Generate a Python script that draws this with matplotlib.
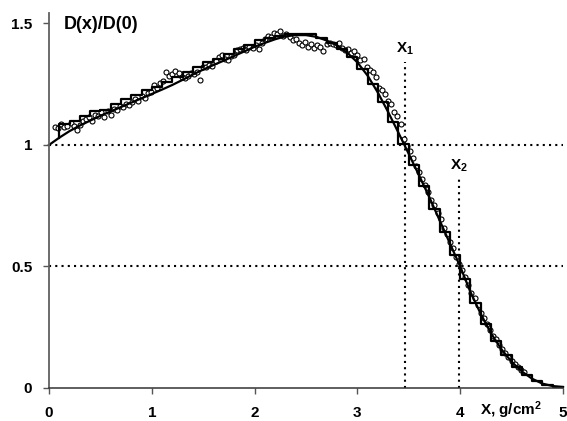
import matplotlib.pyplot as plt

plt.rcParams['font.family'] = ['Liberation Sans', 'DejaVu Sans']
plt.rcParams['font.weight'] = 'bold'
plt.rcParams['mathtext.fontset'] = 'custom'
plt.rcParams['mathtext.rm'] = 'Liberation Sans:bold'
plt.rcParams['mathtext.it'] = 'Liberation Sans:bold'
plt.rcParams['mathtext.bf'] = 'Liberation Sans:bold'

# smooth dose curve D(x)/D(0)
curve_x = [0.0, 0.1, 0.2, 0.3, 0.4, 0.5, 0.6, 0.7, 0.8, 0.9, 1.0,
           1.1, 1.2, 1.3, 1.4, 1.5, 1.6, 1.7, 1.8, 1.9, 2.0,
           2.1, 2.2, 2.3, 2.4, 2.5, 2.6, 2.7, 2.8, 2.9, 3.0,
           3.1, 3.2, 3.3, 3.4, 3.5, 3.6, 3.7, 3.8, 3.9, 4.0,
           4.1, 4.2, 4.3, 4.4, 4.5, 4.6, 4.7, 4.8, 4.9, 5.0]
curve_y = [1.0, 1.03, 1.057, 1.08, 1.1, 1.12, 1.138, 1.156, 1.174, 1.192, 1.21,
           1.228, 1.247, 1.268, 1.29, 1.31, 1.329, 1.347, 1.366, 1.385, 1.404,
           1.42, 1.435, 1.447, 1.452, 1.452, 1.445, 1.43, 1.41, 1.38, 1.34,
           1.285, 1.215, 1.135, 1.05, 0.963, 0.875, 0.785, 0.69, 0.595, 0.5,
           0.395, 0.305, 0.225, 0.16, 0.108, 0.068, 0.038, 0.018, 0.008, 0.004]

# layer-averaged staircase (value on each 0.1 bin, bin right edge given)
step_x = [0.1, 0.2, 0.3, 0.4, 0.5, 0.6, 0.7, 0.8, 0.9, 1.0,
          1.1, 1.2, 1.3, 1.4, 1.5, 1.6, 1.7, 1.8, 1.9, 2.0,
          2.1, 2.2, 2.3, 2.4, 2.5, 2.6, 2.7, 2.8, 2.9, 3.0,
          3.1, 3.2, 3.3, 3.4, 3.5, 3.6, 3.7, 3.8, 3.9, 4.0,
          4.1, 4.2, 4.3, 4.4, 4.5, 4.6, 4.7, 4.8, 4.9, 5.0]
step_y = [1.03, 1.085, 1.10, 1.12, 1.14, 1.145, 1.17, 1.19, 1.205, 1.225,
          1.24, 1.26, 1.28, 1.30, 1.32, 1.34, 1.355, 1.375, 1.395, 1.41,
          1.43, 1.44, 1.45, 1.455, 1.455, 1.455, 1.44, 1.42, 1.395, 1.36,
          1.313, 1.25, 1.175, 1.093, 1.006, 0.919, 0.83, 0.738, 0.643, 0.548,
          0.448, 0.35, 0.265, 0.193, 0.134, 0.088, 0.053, 0.028, 0.013, 0.006]

# measured points
meas_x = [0.06, 0.09, 0.12, 0.15, 0.18, 0.21, 0.24, 0.27, 0.30, 0.33,
          0.36, 0.39, 0.42, 0.45, 0.48, 0.51, 0.54, 0.57, 0.60, 0.63,
          0.66, 0.69, 0.72, 0.75, 0.78, 0.81, 0.84, 0.87, 0.90, 0.93,
          0.96, 0.99, 1.02, 1.05, 1.08, 1.11, 1.14, 1.17, 1.20, 1.23,
          1.26, 1.29, 1.32, 1.35, 1.38, 1.41, 1.44, 1.47, 1.50, 1.53,
          1.56, 1.59, 1.62, 1.65, 1.68, 1.71, 1.74, 1.77, 1.80, 1.83,
          1.86, 1.89, 1.92, 1.95, 1.98, 2.01, 2.04, 2.07, 2.10, 2.13,
          2.16, 2.19, 2.22, 2.25, 2.28, 2.31, 2.34, 2.37, 2.40, 2.43,
          2.46, 2.49, 2.52, 2.55, 2.58, 2.61, 2.64, 2.67, 2.70, 2.73,
          2.76, 2.79, 2.82, 2.85, 2.88, 2.91, 2.94, 2.97, 3.00, 3.03,
          3.06, 3.09, 3.12, 3.15, 3.18, 3.21, 3.24, 3.27, 3.30, 3.33,
          3.36, 3.39, 3.42, 3.45, 3.48, 3.51, 3.54, 3.57, 3.60, 3.63,
          3.66, 3.69, 3.72, 3.75, 3.78, 3.81, 3.84, 3.87, 3.90, 3.93,
          3.96, 3.99, 4.02, 4.05, 4.08, 4.11, 4.14, 4.17, 4.20, 4.23,
          4.26, 4.29, 4.32, 4.35, 4.38, 4.41, 4.44, 4.47, 4.50, 4.53,
          4.56, 4.59, 4.62]
meas_y = [1.075, 1.068, 1.085, 1.072, 1.08, 1.09, 1.077, 1.06, 1.083, 1.10,
          1.105, 1.115, 1.10, 1.125, 1.12, 1.135, 1.115, 1.14, 1.125, 1.15,
          1.145, 1.16, 1.155, 1.17, 1.165, 1.175, 1.19, 1.18, 1.20, 1.195,
          1.215, 1.22, 1.245, 1.235, 1.255, 1.265, 1.30, 1.285, 1.29, 1.305,
          1.295, 1.28, 1.275, 1.285, 1.295, 1.29, 1.30, 1.267, 1.32, 1.32,
          1.33, 1.325, 1.345, 1.36, 1.37, 1.355, 1.35, 1.365, 1.37, 1.39,
          1.395, 1.40, 1.39, 1.405, 1.40, 1.41, 1.395, 1.42, 1.435, 1.45,
          1.445, 1.46, 1.455, 1.47, 1.45, 1.455, 1.445, 1.43, 1.435, 1.42,
          1.41, 1.425, 1.405, 1.415, 1.40, 1.41, 1.405, 1.385, 1.415, 1.42,
          1.415, 1.41, 1.42, 1.40, 1.39, 1.395, 1.38, 1.385, 1.37, 1.35,
          1.355, 1.32, 1.31, 1.30, 1.28, 1.235, 1.225, 1.21, 1.18, 1.17,
          1.135, 1.12, 1.085, 1.025, 0.995, 0.975, 0.945, 0.915, 0.89, 0.86,
          0.835, 0.805, 0.775, 0.752, 0.72, 0.695, 0.66, 0.635, 0.60, 0.575,
          0.54, 0.512, 0.485, 0.455, 0.425, 0.39, 0.37, 0.34, 0.31, 0.29,
          0.262, 0.24, 0.215, 0.20, 0.178, 0.16, 0.145, 0.128, 0.112, 0.10,
          0.088, 0.075, 0.065]

x1, x1_top = 3.46, 1.34
x2, x2_top = 3.99, 0.86

fig = plt.figure(figsize=(5.67, 4.21), dpi=100)
ax = fig.add_axes([0.0864, 0.0784, 0.9065, 0.8907])

dot = (0, (1, 2))
ax.plot([0, 5], [1, 1], color='black', lw=1.5, ls=dot)
ax.plot([0, 5], [0.5, 0.5], color='black', lw=1.5, ls=dot)
ax.plot([x1, x1], [0, x1_top], color='black', lw=1.5, ls=dot)
ax.plot([x2, x2], [0, x2_top], color='black', lw=1.5, ls=dot)

ax.plot(meas_x, meas_y, 'o', ms=3.6, mfc='white', mec='black', mew=0.8)
ax.step(step_x, step_y, where='pre', color='black', lw=1.6, clip_on=False)
ax.plot(curve_x, curve_y, color='black', lw=1.6, clip_on=False)

ax.text(x1, 1.36, 'X$_1$', ha='center', va='bottom', fontsize=11)
ax.text(x2, 0.88, 'X$_2$', ha='center', va='bottom', fontsize=11)
ax.text(0.14, 1.495, 'D(x)/D(0)', ha='left', va='center', fontsize=13)

ax.set_xlim(0, 5)
ax.set_ylim(0, 1.543)
ax.set_xticks([0, 1, 2, 3, 4, 5])
ax.set_yticks([0, 0.5, 1, 1.5])
ax.set_yticklabels(['0', '0.5', '1', '1.5'])
ax.tick_params(axis='both', direction='out', length=4, width=1,
               color='#555555', labelsize=11)
ax.tick_params(axis='x', pad=9)
ax.tick_params(axis='y', pad=8)
ax.text(4.49, -0.111, 'X, g/cm$^2$', ha='center', va='baseline', fontsize=11)

for side in ['top', 'right']:
    ax.spines[side].set_visible(False)
ax.spines['left'].set_color('#606060')
ax.spines['left'].set_linewidth(1.3)
ax.spines['bottom'].set_color('#333333')
ax.spines['bottom'].set_linewidth(1.1)

fig.savefig('out.png', dpi=100)
